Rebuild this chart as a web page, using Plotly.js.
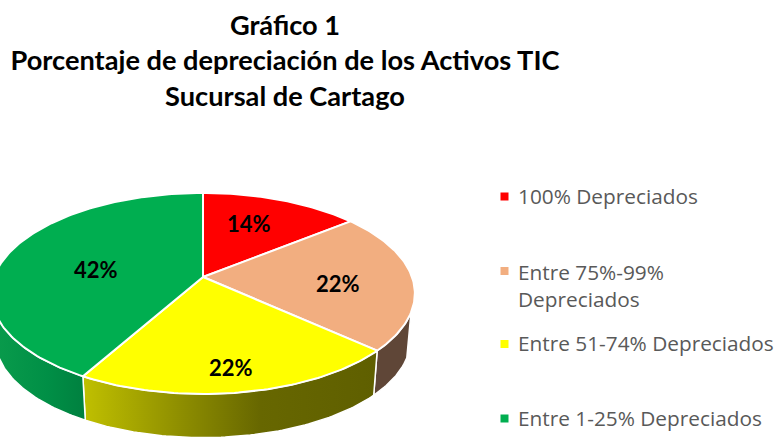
<!DOCTYPE html>
<html><head><meta charset="utf-8">
<script src="https://cdn.plot.ly/plotly-3.0.1.min.js"></script>
<style>html,body{margin:0;padding:0;background:#fff}#c{width:776px;height:437px}</style>
</head><body><div id="c"></div>
<script>
const categories = ['100% Depreciados','Entre 75%-99%<br>Depreciados','Entre 51-74% Depreciados','Entre 1-25% Depreciados'];
const values = [14.2,22.5,21.5,41.8];
const sliceLabels = ['14%','22%','22%','42%'];
const colors = ['#FF0000','#F2AE80','#FFFF00','#00AE50'];

const labelPosX = [249,338,231,96], labelPosY = [223,283,367,269];
const legendMarkX = 504.5, legendTextX = 516, legendPosY = [196.5,271,344,418.5], legendTextY = [196,285.5,343,418];

// perspective projection of the pie disc
const cx=203, cy=277, b=209, a=97.8, k=0.164, depth=46, bottomScale=0.98;
function proj(deg,r,z){
  const t=deg*Math.PI/180, X=r*Math.sin(t), Y=r*Math.cos(t), d=1+k*Y, s=z?bottomScale:1;
  return [cx+s*b*X/d, cy-s*a*Y/d+(z?depth:0)];
}
function arc(t0,t1,r,z){
  const n=Math.max(2,Math.ceil(Math.abs(t1-t0))), o=[];
  for(let i=0;i<=n;i++) o.push(proj(t0+(t1-t0)*i/n,r,z));
  return o;
}
const total=values.reduce((p,c)=>p+c,0);
let acc=0; const ranges=values.map(v=>{const s=acc; acc+=v/total*360; return [s,acc];});

const axisX={range:[0,776],visible:false,fixedrange:true};
const axisY={range:[437,0],visible:false,fixedrange:true};
const traces=[];
function wall(t0,t1,style){
  const pts=arc(t0,t1,1,false).concat(arc(t1,t0,1,true));
  pts.push(pts[0]);
  traces.push(Object.assign({type:'scatter',mode:'lines',x:pts.map(p=>p[0]),y:pts.map(p=>p[1]),fill:'toself',
    line:{color:'#ffffff',width:1.5},hoverinfo:'skip',showlegend:false},style));
}
// side walls (visible parts only)
wall(ranges[1][0]+59, ranges[1][1],{fillcolor:'#5F4637'});
wall(ranges[2][0], ranges[2][1],{fillgradient:{type:'horizontal',start:85,stop:377,
  colorscale:[[0,'#BFBF00'],[0.32,'#8F8F00'],[0.6,'#676700'],[1,'#5F5F00']]}});
wall(ranges[3][0], ranges[3][0]+52,{fillgradient:{type:'horizontal',start:-9,stop:85,
  colorscale:[[0,'#0A9C4C'],[0.6,'#008F46'],[1,'#00803F']]}});
// top faces
values.forEach((v,i)=>{
  const pts=[[cx,cy]].concat(arc(ranges[i][0],ranges[i][1],1,false)); pts.push([cx,cy]);
  traces.push({type:'scatter',mode:'lines',name:categories[i],x:pts.map(p=>p[0]),y:pts.map(p=>p[1]),
    fill:'toself',fillcolor:colors[i],line:{color:'#ffffff',width:2},hoverinfo:'name',showlegend:false});
});
// legend swatches
traces.push({type:'scatter',mode:'markers',x:categories.map(()=>legendMarkX),y:legendPosY,
  marker:{symbol:'square',size:8,color:colors},hoverinfo:'skip',showlegend:false});

const annotations=[];
sliceLabels.forEach((t,i)=>annotations.push({text:'<b>'+t+'</b>',x:labelPosX[i],y:labelPosY[i],xref:'x',yref:'y',
  showarrow:false,font:{family:'Lato',size:22,color:'#000'}}));
categories.forEach((t,i)=>annotations.push({text:t,x:legendTextX,y:legendTextY[i],xref:'x',yref:'y',xanchor:'left',align:'left',
  showarrow:false,font:{family:'Open Sans',size:20.8,color:'#595959'}}));

Plotly.newPlot('c',traces,{
  width:776,height:437,margin:{l:0,r:0,t:0,b:0},paper_bgcolor:'#fff',plot_bgcolor:'#fff',
  xaxis:axisX,yaxis:axisY,showlegend:false,annotations,
  title:{text:'<b>Gráfico 1<br>Porcentaje de depreciación de los Activos TIC<br>Sucursal de Cartago</b>',
    x:285/776,xanchor:'center',xref:'paper',y:0.92,yanchor:'top',yref:'container',
    font:{family:'Lato',size:27.2,color:'#000'}}
},{displayModeBar:false,staticPlot:true});
</script></body></html>
